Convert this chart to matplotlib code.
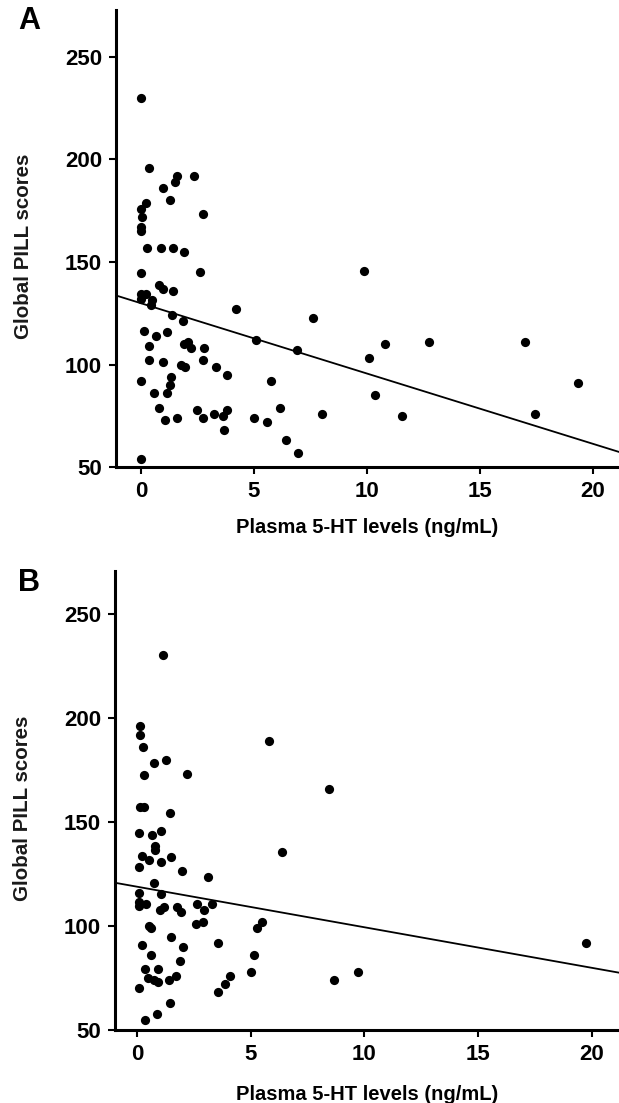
import numpy as np
import matplotlib
matplotlib.use("Agg")
import matplotlib.pyplot as plt

plt.rcParams['font.family'] = ['Liberation Sans', 'DejaVu Sans']
plt.rcParams['font.weight'] = 'bold'

# panel A: plasma 5-HT vs global PILL score
a_x = [0, 0.35, 2.36, 1.62, 1.52, 0.99, 1.31, 0.22, 0, 0.03,
       2.73, 0, 0, 0.27, 0.87, 1.42, 1.89, 0, 2.63, 0.8,
       1.0, 1.43, 0, 0.22, 0, 0.5, 0.43, 4.2, 1.37, 1.85,
       7.61, 0.16, 0.66, 1.15, 5.09, 0.37, 1.92, 2.09, 2.2, 2.79,
       6.92, 0.34, 0.96, 2.76, 1.78, 1.96, 3.33, 0, 3.79, 1.34,
       1.27, 5.74, 0.6, 1.14, 0.81, 6.15, 2.48, 3.83, 3.24, 3.64,
       1.61, 2.74, 5.0, 8.02, 1.05, 5.58, 3.67, 6.43, 6.96, 0,
       9.85, 10.1, 10.8, 10.37, 11.53, 12.74, 16.98, 17.42, 19.33]
a_y = [230, 196, 192, 192, 189, 186, 180, 179, 176, 172,
       173.5, 167, 165, 157, 157, 157, 155, 144.5, 145, 139,
       137, 136, 134.5, 134.4, 132, 131.5, 129, 127, 124, 121,
       122.7, 116.5, 114, 116, 112, 109, 110, 111, 108, 108,
       107, 102, 101, 102, 100, 99, 99, 92, 95, 94,
       90, 92, 86, 86, 79, 79, 78, 78, 76, 75,
       74, 74, 74, 76, 73, 72, 68, 63, 57, 54,
       145.6, 103, 110, 85, 75, 111, 111, 76, 91]
a_fit = (129.9, -3.43)   # intercept, slope

# panel B
b_x = [1.13, 0.12, 0.13, 0.26, 5.8, 0.74, 1.28, 0.3, 2.19, 8.45,
       0.12, 0.29, 1.46, 0.1, 0.67, 1.06, 0.81, 0.81, 0.22, 0.51,
       0.1, 1.04, 1.48, 1.98, 6.38, 3.14, 0.76, 0.1, 1.06, 0.1,
       0.1, 0.4, 1.01, 1.19, 1.75, 1.93, 2.64, 2.95, 3.3, 0.53,
       0.63, 2.6, 2.88, 5.26, 5.49, 1.48, 0.2, 2.0, 3.54, 0.63,
       5.14, 1.91, 0.34, 0.91, 0.48, 0.73, 0.91, 1.4, 1.72, 5.02,
       4.1, 3.89, 3.54, 0.1, 1.45, 0.87, 0.33, 8.67, 9.72, 19.75]
b_y = [230.4, 196, 192, 186, 189, 178.3, 180, 172.8, 173.2, 166,
       157, 157, 154.3, 144.7, 143.6, 145.5, 138.5, 136.5, 133.7, 131.6,
       128.2, 130.8, 133.3, 126.6, 135.4, 123.7, 120.8, 115.9, 115.5, 111.7,
       109.8, 110.7, 107.8, 109.3, 109.3, 106.6, 110.7, 107.7, 110.6, 100.1,
       98.9, 100.8, 101.9, 98.9, 101.9, 94.6, 90.7, 89.8, 92, 85.9,
       85.9, 83, 79.2, 79.2, 75.1, 74.2, 73.1, 73.9, 76, 78,
       76, 72, 68.1, 70.2, 62.8, 57.7, 55, 74, 78, 92]
b_fit = (118.9, -1.95)

xticks = [0, 5, 10, 15, 20]
yticks = [50, 100, 150, 200, 250]

fig = plt.figure(figsize=(6.19, 11.03), dpi=100)
axA = fig.add_axes([0.1874, 0.5766, 0.8126, 0.4143])
axB = fig.add_axes([0.1858, 0.0662, 0.8142, 0.4161])

panels = [(axA, a_x, a_y, a_fit, (-1.1, 21.15), (50, 272.9), 'A', 0.981, -0.112),
          (axB, b_x, b_y, b_fit, (-0.97, 21.2), (50, 270.7), 'B', 0.4714, -0.12)]

for ax, xs, ys, fit, xl, yl, letter, ly, xly in panels:
    ax.scatter(xs, ys, s=44, color='black', zorder=3, linewidths=0)
    lx = np.array(xl)
    ax.plot(lx, fit[0] + fit[1] * lx, color='black', lw=1.3)
    ax.set_xlim(xl)
    ax.set_ylim(yl)
    ax.set_xticks(xticks)
    ax.set_yticks(yticks)
    for s in ['top', 'right']:
        ax.spines[s].set_visible(False)
    for s in ['left', 'bottom']:
        ax.spines[s].set_linewidth(2.2)
    ax.tick_params(direction='out', length=5, width=1.5, labelsize=16, pad=5)
    ax.set_xlabel('Plasma 5-HT levels (ng/mL)', fontsize=14.5, fontweight='bold')
    ax.set_ylabel('Global PILL scores', fontsize=14.8, fontweight='bold', color='#1a1a1a')
    ax.yaxis.set_label_coords(-0.165, 0.484)
    ax.xaxis.set_label_coords(0.5, xly)
    fig.text(0.047, ly, letter, fontsize=22, fontweight='bold', ha='center', va='center')

fig.savefig('out.png', dpi=100)
